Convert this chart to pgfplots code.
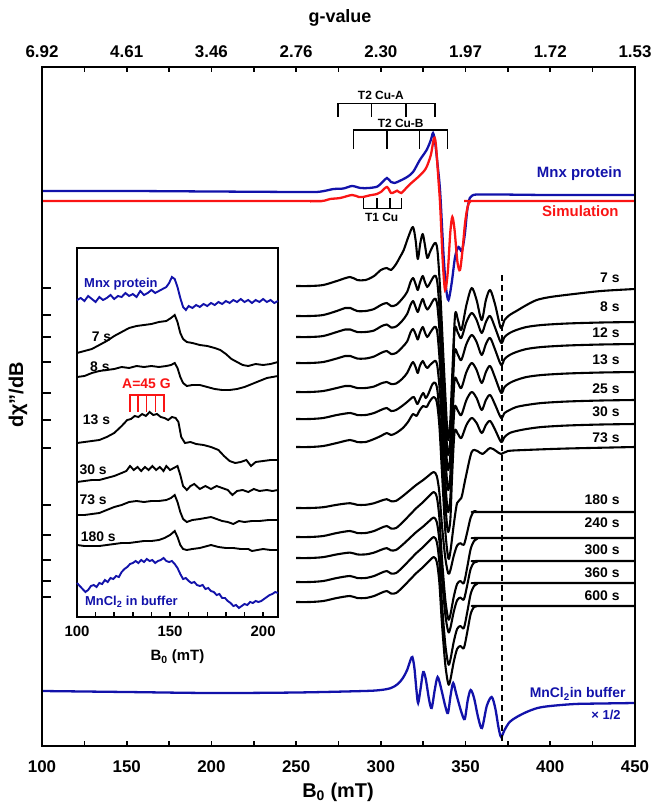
\documentclass[border=0pt]{standalone}
\usepackage{pgfplots}
\pgfplotsset{compat=1.18}
\usepackage{fontspec}
\setmainfont{Liberation Sans}
\definecolor{mnblue}{RGB}{18,18,170}
\definecolor{simred}{RGB}{250,20,20}
\newcommand\fs[1]{\fontsize{#1}{#1}\selectfont\bfseries}
\pgfplotsset{
  spec/.style={black, line width=2.1pt, smooth, tension=0.5, line join=round},
}
\begin{document}
\begin{tikzpicture}[font=\bfseries]
\path[use as bounding box] (-42bp,-57bp) rectangle (612bp,746bp);
% ---------------- main axis ----------------
\begin{axis}[
  at={(0,0)}, anchor=south west, scale only axis,
  width=593bp, height=679bp,
  xmin=100, xmax=450, ymin=67, ymax=746, y dir=reverse,
  axis line style={line width=2pt},
  xtick={100,150,...,450}, xtick style={draw=none},
  xticklabel style={font=\fs{17}, yshift=-11bp},
  /pgf/number format/assume math mode=true,
  ytick={288,315,337,362,393,420,448,505,535,560,581,597}, yticklabels={},
  ytick pos=left, tick align=inside, major tick length=9bp,
  ytick style={line width=1.6pt, black},
  clip=false,
]
% Mnx protein
\addplot[mnblue, line width=2.3pt, smooth, tension=0.5] coordinates {
(100,191)(150,191)(200,191.5)(250,192)(262,192)(268,190.5)(272,189)(278,188.5)(283,186)(288,188)(293,188)(298,186.5)(301,182)(303.6,178)(306,182)(308,183)(311,181)(315.5,177)(319,172)(323,160)(327,150)(329.5,140)(330.8,133)(332,142)(333.5,165)(335,192)(337,255)(338.5,288)(339.9,300)(341.8,283)(343.8,257)(345.8,247)(347.8,251)(349.5,235)(351,210)(352.5,198)(354,195.5)(357,194.5)(370,194.5)(400,195)(450,195)};
% Simulation
\addplot[simred, line width=2.3pt, smooth, tension=0.5] coordinates {
(100,201)(250,201)(265,201)(270,199)(276,198)(283,195)(287,197)(289.5,197)(293,195.5)(297.7,194)(300,192)(303.6,187)(306,193)(308,192)(309.6,190.7)(312,193)(315,188)(318,183)(321.4,178)(325,172)(327,167)(329.5,155)(331.4,138)(332.5,145)(334,180)(335,205)(336.5,260)(337.9,290)(339.5,272)(341,232)(342.2,217)(343.5,230)(345.2,262)(346.7,270)(348.2,250)(349.7,223)(351.2,207)(352.7,201.5)(356,201)(450,201)};
% 7 s
\addplot[spec] coordinates {
(250,286)(258,286)(266,285)(274,281)(281.8,277)(286,280)(291,280)(296,276)(300,270)(303.5,268)(306,270)(309,264)(311.3,257)(313.5,250)(316.2,237)(318.9,227)(320.5,240)(321.8,259)(323.3,243)(324.7,234)(326,245)(327.4,258)(329,252)(331,245)(332.4,243)(333.5,252)(335,290)(337,360)(339,425)(339.8,440)(341,420)(342,380)(343.8,315)(345.5,320)(347.5,330)(350.5,305)(353.6,288)(356.5,300)(359.5,320)(362,300)(364.5,290)(367.5,305)(370.8,328)(373,320)(376,315)(380,311)(386,305)(392,300)(400,297)(414,294)(430,291)(450,289)};
% 8 s
\addplot[spec] coordinates {
(250,316)(258,316)(266,315)(274,311)(279,308)(282,308)(286,311)(291,311)(296,309)(300,305)(303.5,303)(306,306)(309,305)(312.5,299)(315.5,292)(317.5,282)(319,278)(320.5,284)(321.8,290)(323,283)(324.7,276)(326,282)(327.4,287)(329,283)(331,277)(332.4,276)(333.5,285)(335,320)(337,390)(339,445)(339.8,455)(341,440)(342,400)(343.5,330)(345.5,333)(347.5,338)(350.5,322)(353.6,313)(356.5,320)(359.5,333)(362,322)(364.5,316)(367.5,328)(371,343)(373,337)(376,333)(380,330)(386,327)(395,325)(410,323.5)(430,322.5)(450,322)};
% 12 s
\addplot[spec] coordinates {
(250,337)(258,337)(266,336)(274,332)(279,329.5)(282,329.5)(286,332)(291,332)(296,330.5)(300,326.5)(303.5,324.5)(306,327.5)(309,326.5)(312.5,321)(315.5,314)(317.5,305)(319,301)(320.5,307)(321.8,312)(323,306)(324.7,299)(326,305)(327.4,309.5)(329,306)(331,300)(332.4,299)(333.5,308)(335,341)(337,410)(339,462)(339.8,470)(341,455)(342,410)(343.5,352)(345.5,355)(347.5,360)(350.5,344)(353.6,335)(356.5,342)(359.5,355)(362,344)(364.5,338)(367.5,350)(371,365)(373,359)(376,355)(380,352)(386,349)(395,347)(410,345.5)(430,344.5)(450,344)};
% 13 s
\addplot[spec] coordinates {
(250,363)(258,363)(266,362)(274,358.5)(279,356)(282,356)(286,358.5)(291,358.5)(296,356.5)(300,353)(303.5,351)(306,354)(309,353)(312.5,347.5)(315.5,341.5)(317.5,332.5)(319,329)(320.5,334)(321.8,339.5)(323,333)(324.7,327)(326,332.5)(327.4,337)(329,333)(331,328)(332.4,327)(333.5,335)(335,368)(337,430)(339,480)(339.8,490)(341,475)(342,430)(343.5,380)(345.5,383)(347.5,388)(350.5,372)(353.6,363)(356.5,370)(359.5,383)(362,372)(364.5,366)(367.5,378)(371,393)(373,387)(376,383)(380,380)(386,377)(395,375)(410,373.5)(430,372.5)(450,372)};
% 25 s
\addplot[spec] coordinates {
(250,392)(258,392)(266,391)(274,388)(279,386)(282,386)(286,388)(291,388)(296,386.5)(300,383.5)(303.5,382)(306,384)(309,383.5)(312.5,379)(315.5,373)(317.5,366)(319,362)(320.5,367)(321.8,373)(323,366)(324.7,361)(326,365)(327.4,368)(329,365)(331,362)(332.4,361)(333.5,368)(335,396)(337,455)(339,504)(339.8,512)(341,498)(342,455)(343.5,408)(345.5,411)(347.5,415)(350.5,400)(353.6,392)(356.5,398)(359.5,410)(362,400)(364.5,395)(367.5,405)(371,418)(373,413)(376,410)(380,407)(386,405)(395,403)(410,401.5)(430,400.5)(450,400)};
% 30 s
\addplot[spec] coordinates {
(250,419)(258,419)(266,418)(274,415)(282,413)(286,415)(291,415)(296,413)(300,410)(303.5,408)(306,411)(309,410)(312.5,406)(315.5,402)(317.5,399)(319.5,397)(321.5,404)(323,399)(325,393)(326.5,398)(328,394)(330.5,384)(332.2,383)(333.5,392)(335,425)(337,480)(339,524)(339.8,532)(341,520)(342,478)(343.5,432)(345.5,434)(347.5,438)(350.5,425)(353.6,418)(356.5,423)(359.5,433)(362,425)(364.5,421)(367.5,430)(371,442)(373,437)(376,433)(380,431)(386,429)(395,427)(410,425.5)(430,424.5)(450,424)};
% 73 s
\addplot[spec] coordinates {
(250,447)(258,447)(266,446)(274,443)(281.8,440)(286,442)(291,442)(296,439)(300,436)(303.5,433)(306,435)(309,433)(313,428)(316,422)(319,414)(321,416)(323,410)(325,406)(327,407)(329,401)(331.2,397)(333,402)(334.5,425)(336,470)(338,530)(339.8,558)(341,552)(343,525)(345,503)(347.5,498)(350,478)(353.6,452)(357,451)(360,454)(364.5,448)(368,451)(371,454)(375,451)(385,450)(410,448.5)(450,447)};
% 180 s
\addplot[spec] coordinates {
(250,508)(258,508)(266,507.2)(274,504.8)(281.8,503.2)(286,504.8)(291,504.8)(296,503.2)(300,500.8)(303.5,499.2)(306,501.2)(309,500.8)(313,496)(317,490.4)(321,484.8)(325,480)(328.5,475.2)(331.2,472)(333,476)(334.5,492)(336,524)(338,557.6)(339.8,573.6)(341,570.4)(343,556)(345,545.6)(347,543.2)(349,544.8)(351,532)(353,517.6)(355,511.2)(357,512)(360,512)(450,512)};
% 240 s
\addplot[spec] coordinates {
(250,537)(258,537)(266,536)(274,533)(281.8,531)(286,533)(291,533)(296,531)(300,528)(303.5,526)(306,528.5)(309,528)(313,522)(317,515)(321,508)(325,502)(328.5,496)(331.2,492)(333,497)(334.5,517)(336,557)(338,599)(339.8,619)(341,615)(343,597)(345,584)(347,581)(349,583)(351,567)(353,549)(355,541)(357,538.5)(360,538)(450,538)};
% 300 s
\addplot[spec] coordinates {
(250,558)(258,558)(266,557.1)(274,554.4)(281.8,552.6)(286,554.4)(291,554.4)(296,552.6)(300,549.9)(303.5,548.1)(306,550.4)(309,549.9)(313,544.5)(317,538.2)(321,531.9)(325,526.5)(328.5,521.1)(331.2,517.5)(333,522)(334.5,540)(336,576)(338,613.8)(339.8,631.8)(341,628.2)(343,612)(345,600.3)(347,597.6)(349,599.4)(351,585)(353,568.8)(355,562.6)(357,561.5)(360,561)(450,561)};
% 360 s
\addplot[spec] coordinates {
(250,582)(258,582)(266,581)(274,578)(281.8,576)(286,578)(291,578)(296,576)(300,573)(303.5,571)(306,573.5)(309,573)(313,567)(317,560)(321,553)(325,547)(328.5,541)(331.2,537)(333,542)(334.5,562)(336,602)(338,644)(339.8,664)(341,660)(343,642)(345,629)(347,626)(349,628)(351,612)(353,594)(355,586)(357,583.5)(360,583)(450,583)};
% 600 s
\addplot[spec] coordinates {
(250,602)(258,602)(266,601)(274,598)(281.8,596)(286,598)(291,598)(296,596)(300,593)(303.5,591)(306,593.5)(309,593)(313,587)(317,580)(321,573)(325,567)(328.5,561)(331.2,557)(333,562)(334.5,582)(336,622)(338,664)(339.8,684)(341,680)(343,662)(345,649)(347,646)(349,648)(351,632)(353,614)(355,607)(357,606)(360,606)(450,606)};
% MnCl2 in buffer x 1/2
\addplot[mnblue, line width=2.3pt, smooth, tension=0.5] coordinates {
(100,691)(150,692)(200,693)(250,692.5)(290,691)(300,690)(306,688)(310,684)(313,678)(315.5,670)(317.5,660)(318.6,657)(319.8,668)(321,690)(322,703)(323.5,688)(325,672)(326.5,679)(328.5,700)(330,708)(331.8,690)(333.5,677)(335.5,688)(338,706)(339.6,713)(341.2,695)(342.7,683)(344.5,694)(347.5,712)(349.5,719)(351.3,700)(353,690)(355,698)(357.5,718)(359.7,728)(362.5,706)(365.4,697)(367.5,708)(369.5,728)(371,737)(373,730)(376,722)(380.2,717)(386,712)(392.5,708)(400,706)(414.6,704)(430,703.5)(450,703)};
% dashed marker
\draw[black, line width=1.6pt, dash pattern=on 6bp off 4bp] (axis cs:371.4,275) -- (axis cs:371.4,742);
% brackets
\draw[black, line width=1.5pt] (axis cs:274.8,117) -- (axis cs:274.8,103.3) -- (axis cs:332,103.3) -- (axis cs:332,117)
  (axis cs:294.6,103.3) -- (axis cs:294.6,117) (axis cs:314.9,103.3) -- (axis cs:314.9,117);
\node[font=\fs{12}] at (axis cs:300,95) {T2 Cu-A};
\draw[black, line width=1.5pt] (axis cs:283.8,149) -- (axis cs:283.8,130) -- (axis cs:339.3,130) -- (axis cs:339.3,149)
  (axis cs:303.5,130) -- (axis cs:303.5,149) (axis cs:322.7,130) -- (axis cs:322.7,149);
\node[font=\fs{12}] at (axis cs:311.7,123) {T2 Cu-B};
\draw[black, line width=1.5pt] (axis cs:289.7,198.3) -- (axis cs:289.7,208.3) -- (axis cs:312.3,208.3) -- (axis cs:312.3,198.3)
  (axis cs:297.6,208.3) -- (axis cs:297.6,198.3) (axis cs:305.4,208.3) -- (axis cs:305.4,198.3);
\node[font=\fs{12}] at (axis cs:300.5,217) {T1 Cu};
% labels
\node[font=\fs{15}, text=mnblue, anchor=east] at (axis cs:444.2,174) {Mnx protein};
\node[font=\fs{15}, text=simred, anchor=east] at (axis cs:442.4,211) {Simulation};
\node[font=\fs{14}, anchor=east] at (axis cs:443,278) {7 s};
\node[font=\fs{14}, anchor=east] at (axis cs:443,307) {8 s};
\node[font=\fs{14}, anchor=east] at (axis cs:443,333) {12 s};
\node[font=\fs{14}, anchor=east] at (axis cs:443,360) {13 s};
\node[font=\fs{14}, anchor=east] at (axis cs:443,389) {25 s};
\node[font=\fs{14}, anchor=east] at (axis cs:443,412) {30 s};
\node[font=\fs{14}, anchor=east] at (axis cs:443,438) {73 s};
\node[font=\fs{14}, anchor=east] at (axis cs:443,500) {180 s};
\node[font=\fs{14}, anchor=east] at (axis cs:443,523) {240 s};
\node[font=\fs{14}, anchor=east] at (axis cs:443,550) {300 s};
\node[font=\fs{14}, anchor=east] at (axis cs:443,573) {360 s};
\node[font=\fs{14}, anchor=east] at (axis cs:443,596) {600 s};
\node[font=\fs{14}, text=mnblue, anchor=east] at (axis cs:446.5,694) {MnCl\textsubscript{2}in buffer};
\node[font=\fs{13}, text=mnblue, anchor=east] at (axis cs:443.6,715) {× 1/2};
\end{axis}
% ---------------- top / tick axis ----------------
\begin{axis}[
  at={(0,0)}, anchor=south west, scale only axis,
  width=593bp, height=679bp,
  xmin=100, xmax=450, ymin=0, ymax=1,
  axis line style={line width=2pt},
  xtick={100,150,...,450}, minor x tick num=1,
  xtick pos=both, xticklabel pos=top,
  xticklabels={6.92,4.61,3.46,2.76,2.30,1.97,1.72,1.53},
  xticklabel style={font=\fs{17}, yshift=6bp},
  ytick=\empty, tick align=inside,
  major tick length=5bp, minor tick length=5bp,
  every tick/.style={line width=1.6pt, black},
]
\end{axis}
\node[font=\fs{18}] at (298bp,728bp) {g-value};
\node[font=\fs{20}] at (296bp,-46bp) {B\textsubscript{0} (mT)};
\node[font=\fs{20}, rotate=90] at (-24bp,351bp) {d\char"03C7\char"22/dB};
% ---------------- inset ----------------
\begin{axis}[
  at={(35bp,129bp)}, anchor=south west, scale only axis,
  width=201bp, height=369bp,
  xmin=100, xmax=208, ymin=248, ymax=617, y dir=reverse,
  axis background/.style={fill=white},
  axis line style={line width=2pt},
  xtick={100,150,200}, minor xtick={110,120,130,140,160,170,180,190},
  xtick pos=bottom, ytick=\empty, tick align=inside,
  major tick length=5bp, minor tick length=5bp,
  every tick/.style={line width=1.5pt, black},
  xticklabel style={font=\fs{15}, yshift=-6bp},
  /pgf/number format/assume math mode=true,
  clip=false,
]
\addplot[mnblue, line width=1.9pt, sharp plot] coordinates {
(100,300)(102,298)(104,301)(106,296)(108,299)(110,302)(112,297)(114,300)(116,298)(118,295)(120,299)(122,296)(124,297)(126,293)(128,296)(130,294)(132,297)(134,291)(136,295)(138,293)(140,290)(142,293)(144,291)(146,289)(148,287)(149.5,283)(151,277)(152.5,279)(154,287)(155.5,298)(157,307)(158.5,310)(160,306)(162,308)(164,305)(166,307)(168,304)(170,306)(172,303)(174,305)(176,302)(178,304)(180,301)(182,303)(184,300)(186,302)(188,299)(190,302)(192,300)(194,303)(196,300)(198,302)(200,299)(202,302)(204,300)(206,303)(208,301)};
\addplot[black, line width=1.9pt, sharp plot] coordinates {
(100,353)(104,351)(108,349)(112,345)(116,341)(120,336)(124,332)(128,328)(132,326)(136,325)(140,324)(144,322)(148,321)(150.5,318)(152.5,315)(154,322)(155.5,333)(157,339)(159,342)(162,343)(166,345)(170,346)(174,348)(177,350)(180,354)(183,359)(186,362)(189,365)(192,366)(196,364)(200,365)(204,364)(208,362)};
\addplot[black, line width=1.9pt, sharp plot] coordinates {
(100,377)(104,376)(108,373)(112,371)(116,370)(120,369)(124,367)(128,368)(132,366)(136,367)(140,366)(144,367)(148,366)(150.5,365)(152.5,363)(154,368)(155.5,377)(157,383)(159,386)(162,385)(166,385)(170,387)(174,389)(178,390)(182,390)(186,389)(190,387)(194,384)(198,381)(202,378)(205,377)(208,376)};
\addplot[black, line width=1.9pt, sharp plot] coordinates {
(100,443)(104,442)(108,441)(112,440)(116,437)(120,433)(124,426)(127,420)(129,419)(131,416)(133,417)(135,414)(137,416)(139,412)(141,415)(143,414)(145,417)(147,418)(149,420)(151,417)(153,418)(154.5,422)(156,437)(158,443)(161,442)(164,444)(168,445)(172,447)(176,450)(179,456)(182,461)(185,463)(188,462)(191,460)(193.5,466)(196,462)(200,461)(204,460)(208,460)};
\addplot[black, line width=1.9pt, sharp plot] coordinates {
(100,482)(104,481)(108,480)(112,480)(116,478)(120,476)(124,473)(126.5,471)(128.5,466)(130.5,470)(132.5,467)(134.5,471)(136.5,467)(138.5,470)(140.5,466)(142.5,470)(144.5,467)(146.5,471)(148,466)(150,470)(152,468)(154,466)(155.5,475)(157,486)(159,490)(161,486)(163,484)(166,489)(169,486)(172,489)(175,486)(178,488)(181,490)(183.5,495)(186,491)(189,490)(192,492)(195,489)(198,491)(202,490)(205,491)(208,490)};
\addplot[black, line width=1.9pt, sharp plot] coordinates {
(100,515)(104,515)(108,514)(112,513)(116,510)(120,507)(124,505)(128,502)(132,501)(136,502)(140,501)(144,501)(148,500)(150.5,498)(152.5,495)(154,502)(155.5,512)(157,519)(159,522)(162,520)(166,519)(169,518)(172,517)(175,519)(178,521)(181,522)(184,524)(187,521)(190,522)(194,521)(198,521)(203,520)(208,520)};
\addplot[black, line width=1.9pt, sharp plot] coordinates {
(100,545)(104,546)(108,546)(112,546)(116,545)(120,544)(124,543)(128,543)(132,542)(136,541)(140,541)(144,540)(147,538)(150,535)(152.5,531)(154,537)(155.5,545)(157,549)(159,550)(162,549)(166,548)(170,546)(172,545)(176,547)(180,548)(184,548)(188,549)(192,549)(194,551)(197,550)(200,549)(204,550)(208,550)};
\addplot[mnblue, line width=1.9pt, sharp plot] coordinates {
(100,583)(101.5,586)(103,589)(104.5,592)(106,590)(107.5,586)(109,585)(110.5,587)(112,583)(113.5,584)(115,580)(116.5,582)(118,578)(119.5,579)(121,576)(122.5,577)(124,572)(125.5,569)(127,567)(128.5,564)(130,563)(131.5,561)(133,563)(134.5,560)(136,562)(137.5,559)(139,561)(140.5,560)(142,563)(143.5,561)(145,560)(146.5,558)(148,561)(149.5,562)(151,561)(152.5,564)(154,568)(155.5,574)(157,579)(158.5,578)(160,581)(161.5,583)(163,582)(164.5,585)(166,586)(167.5,585)(169,589)(170.5,588)(172,591)(173.5,592)(175,595)(176.5,594)(178,598)(179.5,598)(181,601)(182.5,603)(184,606)(185.5,605)(187,608)(188.5,606)(190,604)(191.5,605)(193,602)(194.5,603)(196,601)(197.5,602)(199,601)(200.5,599)(202,597)(203.5,595)(205,594)(206.5,592)(208,593)};
% A=45 G bracket
\draw[simred, line width=1.6pt] (axis cs:128.4,411.7) -- (axis cs:128.4,395) -- (axis cs:146.8,395) -- (axis cs:146.8,411.7)
  (axis cs:132.9,395) -- (axis cs:132.9,411.7) (axis cs:137.3,395) -- (axis cs:137.3,411.7) (axis cs:142.2,395) -- (axis cs:142.2,411.7);
\node[font=\fs{14}, text=simred] at (axis cs:137.3,384) {A=45 G};
\node[font=\fs{13}, text=mnblue, anchor=west] at (axis cs:102,284) {Mnx protein};
\node[font=\fs{14}] at (axis cs:113.2,337) {7 s};
\node[font=\fs{14}] at (axis cs:112.3,367) {8 s};
\node[font=\fs{14}] at (axis cs:110.5,420) {13 s};
\node[font=\fs{14}] at (axis cs:108.7,470) {30 s};
\node[font=\fs{14}] at (axis cs:108.7,500) {73 s};
\node[font=\fs{14}] at (axis cs:111.4,537) {180 s};
\node[font=\fs{13}, text=mnblue, anchor=west] at (axis cs:102.5,602) {MnCl\textsubscript{2} in buffer};
\node[font=\fs{15}] at (axis cs:154,657) {B\textsubscript{0} (mT)};
\end{axis}
\end{tikzpicture}
\end{document}
